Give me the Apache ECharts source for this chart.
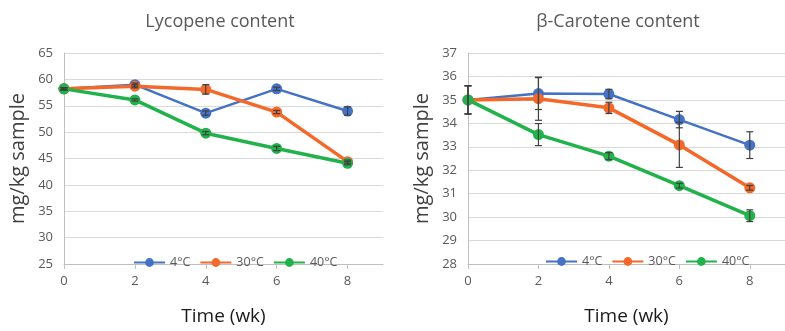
<!DOCTYPE html>
<html>
<head>
<meta charset="utf-8">
<script src="https://cdn.jsdelivr.net/npm/echarts@6/dist/echarts.min.js"></script>
<style>
html, body { margin: 0; padding: 0; background: #fff; }
#main { width: 785px; height: 331px; }
</style>
</head>
<body>
<div id="main"></div>
<script>
var weeks = [0, 2, 4, 6, 8];
var tempNames = ['4°C', '30°C', '40°C'];
var colors = ['#4472C4', '#F4692A', '#22B24C'];

// Lycopene content (mg/kg sample)
var lyc4 = [58.2, 59.0, 53.6, 58.2, 54.0];
var lyc30 = [58.2, 58.7, 58.1, 53.8, 44.4];
var lyc40 = [58.2, 56.1, 49.8, 46.9, 44.1];
var lyc4Err = [0.2, 0.3, 0.4, 0.3, 0.8];
var lyc30Err = [0.2, 0.3, 0.9, 0.3, 0.3];
var lyc40Err = [0.2, 0.2, 0.3, 0.4, 0.3];

// beta-Carotene content (mg/kg sample)
var car4 = [35.0, 35.27, 35.25, 34.16, 33.07];
var car30 = [35.0, 35.05, 34.66, 33.08, 31.25];
var car40 = [35.0, 33.52, 32.6, 31.34, 30.06];
var car4Err = [0.6, 0.68, 0.2, 0.35, 0.57];
var car30Err = [0.6, 0.92, 0.24, 0.96, 0.1];
var car40Err = [0.6, 0.47, 0.15, 0.1, 0.25];

var xTicks = [0, 2, 4, 6, 8];

var chart = echarts.init(document.getElementById('main'));
var font = '"Open Sans", "Noto Sans", sans-serif';

var toPairs = function (ys) {
    return weeks.map(function (w, i) { return [w, ys[i]]; });
};

var lineSeries = function (name, ys, idx, color, width) {
    return {
        name: name,
        type: 'line',
        xAxisIndex: idx,
        yAxisIndex: idx,
        data: toPairs(ys),
        symbol: 'circle',
        symbolSize: 11,
        itemStyle: { color: color },
        lineStyle: { color: color, width: width },
        z: 2
    };
};

var errSeries = function (ys, errs, idx) {
    return {
        type: 'custom',
        xAxisIndex: idx,
        yAxisIndex: idx,
        silent: true,
        z: 5,
        data: weeks.map(function (w, i) { return [w, ys[i] - errs[i], ys[i] + errs[i]]; }),
        renderItem: function (params, api) {
            var lo = api.coord([api.value(0), api.value(1)]);
            var hi = api.coord([api.value(0), api.value(2)]);
            var cap = 3.5;
            var st = { stroke: '#404040', lineWidth: 1.2 };
            return {
                type: 'group',
                children: [
                    { type: 'line', shape: { x1: lo[0], y1: lo[1], x2: hi[0], y2: hi[1] }, style: st },
                    { type: 'line', shape: { x1: lo[0] - cap, y1: lo[1], x2: lo[0] + cap, y2: lo[1] }, style: st },
                    { type: 'line', shape: { x1: hi[0] - cap, y1: hi[1], x2: hi[0] + cap, y2: hi[1] }, style: st }
                ]
            };
        }
    };
};

var xAxisFor = function (idx) {
    return {
        type: 'value',
        gridIndex: idx,
        min: 0,
        max: 9,
        interval: 1,
        name: 'Time (wk)',
        nameLocation: 'middle',
        nameGap: 43,
        nameTextStyle: { fontFamily: font, fontSize: 19, color: '#1a1a1a' },
        axisLine: { lineStyle: { color: '#bfbfbf' } },
        axisTick: { show: true, customValues: xTicks, length: 5, lineStyle: { color: '#bfbfbf' } },
        axisLabel: { customValues: xTicks, color: '#595959', fontFamily: font, fontSize: 13, margin: 11 },
        splitLine: { show: false }
    };
};

var yAxisFor = function (idx, min, max, interval) {
    return {
        type: 'value',
        gridIndex: idx,
        min: min,
        max: max,
        interval: interval,
        name: 'mg/kg sample',
        nameLocation: 'middle',
        nameGap: 36,
        nameTextStyle: { fontFamily: font, fontSize: 20, color: '#404040' },
        axisLine: { show: true, lineStyle: { color: '#bfbfbf' } },
        axisTick: { show: false },
        axisLabel: { color: '#595959', fontFamily: font, fontSize: 13, margin: 11 },
        splitLine: { lineStyle: { color: '#d9d9d9' } }
    };
};

var legendFor = function (left, top) {
    return {
        data: tempNames,
        left: left, top: top,
        itemWidth: 31, itemHeight: 11, itemGap: 9,
        textStyle: { fontFamily: font, fontSize: 12.5, color: '#595959' }
    };
};

var option = {
    animation: false,
    backgroundColor: '#fff',
    title: [{
        text: 'Lycopene content',
        left: 215, top: 8, textAlign: 'center',
        textStyle: { fontFamily: font, fontSize: 18, fontWeight: 'normal', color: '#595959' }
    }, {
        text: 'β-Carotene content',
        left: 613, top: 8, textAlign: 'center',
        textStyle: { fontFamily: font, fontSize: 18, fontWeight: 'normal', color: '#595959' }
    }],
    legend: [legendFor(128, 251), legendFor(540, 250)],
    grid: [
        { left: 64, top: 53, width: 319, height: 224 },
        { left: 468, top: 53, width: 325, height: 222 }
    ],
    xAxis: [xAxisFor(0), xAxisFor(1)],
    yAxis: [yAxisFor(0, 25, 65, 5), yAxisFor(1, 28, 37, 1)],
    series: [
        lineSeries(tempNames[0], lyc4, 0, colors[0], 2.5),
        lineSeries(tempNames[1], lyc30, 0, colors[1], 3.5),
        lineSeries(tempNames[2], lyc40, 0, colors[2], 3.5),
        errSeries(lyc4, lyc4Err, 0),
        errSeries(lyc30, lyc30Err, 0),
        errSeries(lyc40, lyc40Err, 0),
        lineSeries(tempNames[0], car4, 1, colors[0], 2.5),
        lineSeries(tempNames[1], car30, 1, colors[1], 3.5),
        lineSeries(tempNames[2], car40, 1, colors[2], 3.5),
        errSeries(car4, car4Err, 1),
        errSeries(car30, car30Err, 1),
        errSeries(car40, car40Err, 1)
    ]
};

chart.setOption(option);
</script>
</body>
</html>
